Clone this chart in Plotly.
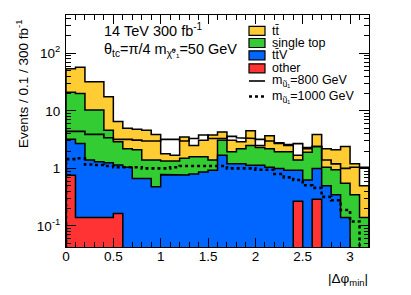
import plotly.graph_objects as go

# ---------------- data ----------------
n_bins = 32
bin_width = 0.1
edges = [round(i * bin_width, 2) for i in range(n_bins + 1)]

other = [0.76, 0.14, 0.14, 0.14, 0.14, 0.165,
         0, 0, 0, 0, 0, 0, 0, 0, 0, 0, 0, 0, 0, 0, 0, 0, 0, 0,
         0.27, 0, 0.29, 0, 0, 0, 0, 0]
ttV = [2.44, 2.56, 1.26, 1.16, 1.11, 0.985, 1.05, 0.67, 0.67, 0.48, 0.78, 0.78,
       0.77, 0.80, 0.87, 0.93, 1.7, 1.2, 1.2, 1.14, 1.14, 1.05, 1.0, 0.93,
       0.66, 0.63, 0.71, 0.5, 0.35, 0.14, 0, 0]
single_top = [17.8, 17.3, 8.9, 9.0, 3.35, 1.75, 1.15, 1.43, 0.73, 0.92, 0.57, 0.57,
              0.73, 0.8, 0.73, 0.47, 1.4, 0.75, 1.0, 1.36, 1.16, 1.15, 0.95, 1.02,
              0.47, 1.27, 1.4, 0.55, 0.6, 0.41, 0.35, 0.14]
ttbar = [33, 37, 21.7, 21.7, 13.0, 3.6, 2.8, 2.7, 3.2, 2.5, 0.45, 0.35,
         2.0, 0.9, 1.5, 2.4, 1.2, 1.15, 0.7, 2.0, 0.2, 1.5, 0.75, 0.55,
         0.3, 0.4, 1.5, 1.15, 1.15, 1.85, 0.85, 0.36]
sig_800 = [4.4, 4.4, 3.9, 3.9, 3.4, 3.2, 3.2, 3.1, 3.0, 3.0, 3.2, 3.2,
           3.0, 3.3, 3.8, 3.3, 3.3, 3.6, 3.4, 3.3, 3.2, 3.0, 2.8, 2.6,
           2.7, 2.2, 2.4, 1.4, 1.2, 1.0, 1.05, 1.05]
sig_1000 = [1.45, 1.5, 1.17, 1.15, 1.1, 1.05, 1.05, 1.05, 1.0, 1.0, 1.0, 1.05,
            1.1, 1.1, 1.1, 1.1, 1.1, 1.0, 1.0, 1.0, 0.95, 0.95, 0.8, 0.7,
            0.63, 0.51, 0.46, 0.32, 0.28, 0.19, 0.12, 0]

x_tick_vals = [0, 0.5, 1, 1.5, 2, 2.5, 3]
x_tick_text = ["0", "0.5", "1", "1.5", "2", "2.5", "3"]
y_tick_vals = [0.1, 1, 10, 100]
y_tick_text = ["10<sup>-1</sup>", "1", "10", "10<sup>2</sup>"]

# ---------------- style ----------------
FONT = "Liberation Sans"
C_TT = "#FFCC33"
C_ST = "#33CC33"
C_TTV = "#0066FF"
C_OTH = "#FF3333"
FLOOR = 1e-4   # below the visible log range

# the page body adds an 8px offset; target frame in screen pixels:
PAGE_OFF = 8
SL, ST, SR, SB = 66, 15, 369, 247
W, H = 411 - PAGE_OFF, 295 - PAGE_OFF
ML, MT = SL - PAGE_OFF, ST - PAGE_OFF
MR, MB = W - (SR - PAGE_OFF), H - (SB - PAGE_OFF)


def px2x(px):
    return (px - SL) / (SR - SL)


def px2y(py):
    return (SB - py) / (SB - ST)


def step_xy(vals):
    xs, ys = [], []
    for i, v in enumerate(vals):
        v = v if v > 0 else FLOOR
        xs += [edges[i], edges[i + 1]]
        ys += [v, v]
    return xs, ys


def cumulate(*series):
    out = [0.0] * n_bins
    for s in series:
        out = [a + b for a, b in zip(out, s)]
    return out


layers = [
    (cumulate(other, ttV, single_top, ttbar), C_TT),
    (cumulate(other, ttV, single_top), C_ST),
    (cumulate(other, ttV), C_TTV),
    (cumulate(other), C_OTH),
]

fig = go.Figure()
for vals, col in layers:
    xs, ys = step_xy(vals)
    fig.add_trace(go.Scatter(
        x=[edges[0]] + xs + [edges[-1], edges[0]],
        y=[FLOOR] + ys + [FLOOR, FLOOR],
        mode="lines", fill="toself", fillcolor=col,
        line=dict(color="black", width=1.5),
        showlegend=False, hoverinfo="skip"))

xs, ys = step_xy(sig_800)
fig.add_trace(go.Scatter(x=[edges[0]] + xs + [edges[-1]], y=[FLOOR] + ys + [FLOOR],
                         mode="lines", line=dict(color="black", width=1.6),
                         showlegend=False, hoverinfo="skip"))
xs, ys = step_xy(sig_1000)
fig.add_trace(go.Scatter(x=[edges[0]] + xs + [edges[-1]], y=[FLOOR] + ys + [FLOOR],
                         mode="lines", line=dict(color="black", width=2.6, dash="dot"),
                         showlegend=False, hoverinfo="skip"))

# ---------------- legend (drawn by hand, ROOT style) ----------------
shapes = []
annots = []
leg_rows = [
    ("box", C_TT, "tt\u0304", 30.8),
    ("box", C_ST, "single top", 43.0),
    ("box", C_TTV, "tt\u0304V", 55.3),
    ("box", C_OTH, "other", 68.3),
    ("solid", None, "m<sub>ũ₁</sub>=800 GeV", 81.0),
    ("dot", None, "m<sub>ũ₁</sub>=1000 GeV", 96.5),
]
for kind, col, label, yc in leg_rows:
    if kind == "box":
        shapes.append(dict(type="rect", xref="paper", yref="paper",
                           x0=px2x(249), x1=px2x(265), y0=px2y(yc + 4.5), y1=px2y(yc - 4.5),
                           fillcolor=col, line=dict(color="black", width=1.2)))
    else:
        shapes.append(dict(type="line", xref="paper", yref="paper",
                           x0=px2x(249), x1=px2x(265), y0=px2y(yc), y1=px2y(yc),
                           line=dict(color="black", width=1.6 if kind == "solid" else 2.6,
                                     dash="solid" if kind == "solid" else "dot")))
    annots.append(dict(xref="paper", yref="paper", x=px2x(270), y=px2y(yc),
                       xanchor="left", yanchor="middle", showarrow=False, text=label,
                       font=dict(family=FONT, size=12.5, color="black")))

annots += [
    dict(xref="paper", yref="paper", x=px2x(102), y=px2y(30), xanchor="left", yanchor="middle",
         showarrow=False, text="14 TeV 300 fb<sup>-1</sup>",
         font=dict(family=FONT, size=14.5, color="black")),
    dict(xref="paper", yref="paper", x=px2x(102), y=px2y(50), xanchor="left", yanchor="middle",
         showarrow=False, text="θ<sub>tc</sub>=π/4 m<sub>χ̃⁰₁</sub>=50 GeV",
         font=dict(family=FONT, size=14.5, color="black")),
    dict(xref="paper", yref="paper", x=px2x(22), y=px2y(84), xanchor="center", yanchor="middle",
         showarrow=False, textangle=-90, text="Events / 0.1 / 300 fb<sup>-1</sup>",
         font=dict(family=FONT, size=13.5, color="black")),
    dict(xref="paper", yref="paper", x=px2x(370), y=px2y(279), xanchor="right", yanchor="middle",
         showarrow=False, text="|Δφ<sub>min</sub>|",
         font=dict(family=FONT, size=13.5, color="black")),
]

minor_y = [m * 10.0 ** e for e in (-2, -1, 0, 1, 2) for m in range(2, 10)]

fig.update_layout(
    template="none",
    width=W, height=H,
    margin=dict(l=ML, r=MR, t=MT, b=MB, autoexpand=False),
    paper_bgcolor="white", plot_bgcolor="white",
    font=dict(family=FONT, size=13, color="black"),
    shapes=shapes, annotations=annots,
    xaxis=dict(range=[edges[0], edges[-1]], tickmode="array", tickvals=x_tick_vals,
               ticktext=x_tick_text, ticks="inside", ticklen=9, tickcolor="black",
               showline=True, linecolor="black", linewidth=1, mirror="allticks",
               showgrid=False, zeroline=False, automargin=False,
               ticklabelstandoff=-3,
               tickfont=dict(family=FONT, size=13.5),
               minor=dict(tickmode="linear", tick0=0, dtick=0.1, ticks="inside",
                          ticklen=5, tickcolor="black", showgrid=False)),
    yaxis=dict(type="log", range=[-1.365, 2.665], tickmode="array", tickvals=y_tick_vals,
               ticktext=y_tick_text, ticks="inside", ticklen=10, tickcolor="black",
               showline=True, linecolor="black", linewidth=1, mirror="allticks",
               showgrid=False, zeroline=False, automargin=False,
               ticklabelstandoff=2,
               tickfont=dict(family=FONT, size=13.5),
               minor=dict(tickmode="array", tickvals=minor_y, ticks="inside",
                          ticklen=5, tickcolor="black", showgrid=False)),
)

fig.write_html("out.html")
